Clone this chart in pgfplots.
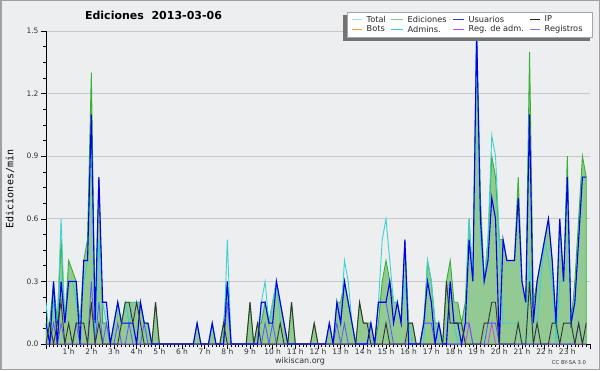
\documentclass[border=0pt]{standalone}
\usepackage{fontspec}
\setmainfont{DejaVu Sans}
\setmonofont{DejaVu Sans Mono}
\usepackage{pgfplots}
\usepackage{pgfplotstable}
\pgfplotsset{compat=1.18}

\definecolor{bg}{HTML}{EDEEF0}
\definecolor{framec}{HTML}{A0A0A0}
\definecolor{gridc}{HTML}{C8C8C8}
\definecolor{efill}{HTML}{93C993}
\definecolor{eline}{HTML}{35B035}
\definecolor{tfill}{HTML}{C4DDF0}
\definecolor{uline}{HTML}{0000EE}
\definecolor{ipline}{HTML}{333333}
\definecolor{aline}{HTML}{3CD2D0}
\definecolor{rline}{HTML}{5858F8}
\definecolor{mline}{HTML}{CC44DD}
\definecolor{lTotal}{HTML}{A8E0E0}
\definecolor{lEd}{HTML}{88CC88}
\definecolor{lUs}{HTML}{3333DD}
\definecolor{lIP}{HTML}{222222}
\definecolor{lBots}{HTML}{FF9933}
\definecolor{lAdm}{HTML}{33CCDD}
\definecolor{lReg}{HTML}{CC44DD}
\definecolor{lRegs}{HTML}{7777EE}

\pgfplotstableread{
i E U P A R M T
0 .1 .1 0 .2 0 0 .1
1 .1 0 .1 0 0 0 .1
2 .3 .3 0 .2 .1 0 .3
3 .1 0 .1 .1 0 0 .1
4 .5 .3 .2 .6 .1 0 .5
5 .1 .1 0 .1 0 0 .1
6 .4 .3 .1 .3 0 0 .4
7 .35 .3 0 .3 0 0 .35
8 .3 .3 .1 .2 .1 0 .3
9 .1 0 .1 .1 0 0 .1
10 .4 .4 .1 .3 0 0 .4
11 .5 .4 0 .4 0 0 .5
12 1.3 1.1 .2 1.0 .3 0 1.3
13 .1 .1 0 0 0 0 .1
14 .8 .8 .1 .5 .2 0 .8
15 .1 .2 0 .2 0 0 .2
16 .1 .2 0 .1 .1 0 .2
17 0 0 0 0 0 0 0
18 .1 .1 0 .1 0 0 .1
19 .2 .2 0 .2 .1 0 .2
20 .1 .1 .1 .1 0 0 .1
21 .2 .1 .2 .2 0 0 .2
22 .2 .1 .2 .1 .1 0 .2
23 .2 .1 .1 .2 0 0 .2
24 .2 0 .2 .2 0 0 .2
25 .2 .2 .1 .2 0 0 .2
26 .1 .1 0 .1 .1 0 .1
27 .1 .1 0 0 0 0 .1
28 0 0 0 0 0 0 0
29 .2 0 .2 0 0 0 .2
30 0 0 0 0 0 0 0
31 0 0 0 0 0 0 0
32 0 0 0 0 0 0 0
33 0 0 0 0 0 0 0
34 0 0 0 0 0 0 0
35 0 0 0 0 0 0 0
36 0 0 0 0 0 0 0
37 0 0 0 0 0 0 0
38 0 0 0 0 0 0 0
39 0 0 0 0 0 0 0
40 .1 .1 0 0 0 0 .1
41 0 0 0 0 0 0 0
42 0 0 0 0 0 0 0
43 0 0 0 0 0 0 0
44 .1 .1 0 0 0 0 .1
45 0 0 0 0 0 0 0
46 0 0 0 0 0 0 0
47 .1 0 .1 0 0 0 .1
48 .3 .3 0 .5 .2 0 .3
49 0 0 0 0 0 0 0
50 0 0 0 0 0 0 0
51 0 0 0 0 0 0 0
52 0 0 0 0 0 0 0
53 0 0 0 0 0 0 0
54 .2 0 .2 0 0 0 .2
55 0 0 0 0 0 0 0
56 .1 0 .1 0 0 0 .1
57 .1 .2 0 .2 0 0 .2
58 .2 .2 0 .3 .1 0 .2
59 .1 .1 0 .1 0 0 .1
60 .2 .1 0 .2 .1 0 .2
61 .3 .3 0 .3 0 0 .3
62 .2 .2 .1 .1 0 0 .2
63 .1 .1 0 0 0 0 .1
64 0 0 0 0 0 0 0
65 .2 0 .2 0 0 0 .2
66 0 0 0 0 0 0 0
67 0 0 0 0 0 0 0
68 0 0 0 0 0 0 0
69 0 0 0 0 0 0 0
70 0 0 0 0 0 0 0
71 .1 0 .1 0 0 0 .1
72 0 0 0 0 0 0 0
73 0 0 0 0 0 0 0
74 0 0 0 0 0 0 0
75 .1 .1 0 0 0 0 .1
76 0 0 0 0 0 0 0
77 .2 .2 0 .2 .1 0 .2
78 .2 .1 0 .1 0 0 .2
79 .3 .3 0 .4 .1 0 .3
80 .2 .2 0 .3 0 0 .2
81 .1 .1 0 .1 0 0 .1
82 0 0 0 0 0 0 0
83 .2 0 .2 0 0 0 .2
84 .1 0 .1 0 0 0 .1
85 .1 0 .1 0 0 0 .1
86 .1 .1 0 0 0 0 .1
87 0 0 0 0 0 0 0
88 .1 .2 0 .2 .2 0 .2
89 .3 .2 0 .5 .2 0 .3
90 .4 .2 .1 .6 .2 0 .4
91 .3 .3 0 .4 .1 0 .3
92 .2 .1 0 .2 0 0 .2
93 .2 .2 0 .2 0 0 .2
94 .1 .1 0 .1 0 0 .1
95 .5 .5 0 .3 0 0 .5
96 .1 0 .1 .1 0 0 .1
97 .1 0 .1 0 0 0 .1
98 0 0 0 0 0 0 0
99 0 0 0 0 0 0 0
100 .1 .1 0 0 .1 0 .1
101 .4 .3 0 .4 .1 0 .4
102 .3 .2 0 .3 .1 0 .3
103 .1 0 0 .1 0 0 .1
104 .1 .1 0 0 0 0 .1
105 0 0 0 0 0 0 0
106 .3 0 .3 0 0 0 .3
107 .4 .3 .1 .3 0 0 .4
108 .2 .1 .1 .1 0 0 .2
109 .2 .1 .1 0 0 0 .2
110 .1 0 .1 0 0 0 .1
111 .2 .1 0 .1 .1 0 .2
112 .6 .5 0 .6 .1 .1 .6
113 .3 .3 0 .3 0 0 .3
114 1.5 1.5 0 1.5 0 0 1.5
115 .7 .6 0 .5 0 0 .7
116 .3 .3 .1 .3 0 0 .3
117 .5 .4 .1 .5 .1 0 .5
118 .9 .7 .2 1.0 .1 .1 .9
119 .8 .6 .2 .9 .1 0 .8
120 .5 0 0 .5 0 0 .5
121 .5 .5 0 .1 0 0 .5
122 .4 .4 0 .1 0 0 .4
123 .4 .4 0 .1 0 0 .4
124 .4 .4 0 .1 0 0 .4
125 .8 .7 .1 .1 0 0 .8
126 .3 .3 0 0 0 0 .3
127 .2 .2 0 0 0 0 .2
128 1.4 1.1 .3 .4 0 0 1.4
129 .2 .1 0 0 0 0 .2
130 .3 .3 .1 .1 0 0 .3
131 .4 .4 0 .3 0 0 .4
132 .5 .5 0 .5 0 0 .5
133 .6 .6 0 .4 0 0 .6
134 .4 .4 .1 .3 0 0 .4
135 .1 .1 .1 0 0 0 .1
136 .6 .6 0 .3 0 0 .6
137 .3 .3 .1 .3 0 0 .3
138 .9 .8 .1 .8 0 0 .9
139 .1 .1 .1 .1 0 0 .1
140 .3 .2 0 .2 0 0 .3
141 .6 .5 .1 .5 .1 0 .6
142 .9 .8 0 .8 0 0 .9
143 .8 .8 .1 .8 0 0 .8
}\datatable

\begin{document}
\begin{tikzpicture}
\path[use as bounding box] (0pt,0pt) rectangle (600pt,370pt);
\fill[bg] (0pt,0pt) rectangle (600pt,370pt);
\draw[framec, line width=1.5pt] (0.75pt,0.75pt) rectangle (599.25pt,369.25pt);
\begin{axis}[
  at={(46pt,26pt)}, anchor=south west,
  scale only axis, width=544pt, height=313pt,
  xmin=0, xmax=24, ymin=0, ymax=1.5,
  axis x line*=bottom, axis y line*=left,
  axis line style={black, line width=0.9pt},
  xtick={0,...,24},
  xticklabels={,1 h,2 h,3 h,4 h,5 h,6 h,7 h,8 h,9 h,10 h,11 h,12 h,13 h,14 h,15 h,16 h,17 h,18 h,19 h,20 h,21 h,22 h,23 h,},
  minor x tick num=5,
  ytick={0,0.3,0.6,0.9,1.2,1.5},
  minor y tick num=3,
  tick align=outside,
  major tick length=5pt, minor tick length=3pt,
  tick style={black, line width=0.6pt},
  ymajorgrids, grid style={gridc, line width=0.8pt},
  /pgf/number format/assume math mode=true,
  /pgf/number format/fixed, /pgf/number format/fixed zerofill, /pgf/number format/precision=1,
  ticklabel style={font=\fontsize{7.5}{9}\selectfont, text=black!80},
  xticklabel style={yshift=3.5pt},
  yticklabel style={xshift=1pt},
]
\addplot[draw=none, fill=tfill] table[x expr=\thisrow{i}/6, y=T] {\datatable} \closedcycle;
\addplot[draw=eline, line width=0.9pt, fill=efill] table[x expr=\thisrow{i}/6, y=E] {\datatable} \closedcycle;
\addplot[draw=aline, line width=0.9pt] table[x expr=\thisrow{i}/6, y=A] {\datatable};
\addplot[draw=mline, line width=0.8pt] table[x expr=\thisrow{i}/6, y=M] {\datatable};
\addplot[draw=rline, line width=0.8pt] table[x expr=\thisrow{i}/6, y=R] {\datatable};
\addplot[draw=uline, line width=1.1pt] table[x expr=\thisrow{i}/6, y=U] {\datatable};
\addplot[draw=ipline, line width=0.9pt] table[x expr=\thisrow{i}/6, y=P] {\datatable};
\end{axis}
% legend
\fill[black!55] (343pt,328.5pt) rectangle (590pt,355pt);
\draw[gray!70, fill=white, line width=0.6pt] (347pt,333pt) rectangle (592pt,358pt);
\begin{scope}[every node/.style={anchor=west, inner sep=0pt, font=\fontsize{8.2}{9}\selectfont, text=black!85}]
\draw[lTotal, line width=0.8pt] (352pt,351pt) -- (362pt,351pt); \node at (366.5pt,351pt) {Total};
\draw[lEd, line width=0.8pt] (391pt,351pt) -- (403pt,351pt); \node at (407.5pt,351pt) {Ediciones};
\draw[lUs, line width=0.8pt] (453pt,351pt) -- (464pt,351pt); \node at (468.5pt,351pt) {Usuarios};
\draw[lIP, line width=0.8pt] (530pt,351pt) -- (540pt,351pt); \node at (544.5pt,351pt) {IP};
\draw[lBots, line width=0.8pt] (352pt,341pt) -- (362pt,341pt); \node at (366.5pt,341pt) {Bots};
\draw[lAdm, line width=0.8pt] (391pt,341pt) -- (403pt,341pt); \node at (407.5pt,341pt) {Admins.};
\draw[lReg, line width=0.8pt] (453pt,341pt) -- (464pt,341pt); \node at (468.5pt,341pt) {Reg. de adm.};
\draw[lRegs, line width=0.8pt] (530pt,341pt) -- (540pt,341pt); \node at (544.5pt,341pt) {Registros};
\end{scope}
\node[font=\bfseries\fontsize{11}{13}\selectfont] at (153.5pt,354.5pt) {Ediciones\ \ 2013-03-06};
\node[rotate=90, font=\ttfamily\fontsize{10}{12}\selectfont] at (10pt,181pt) {Ediciones/min};
\node[font=\fontsize{8}{9}\selectfont, text=black!80] at (300pt,8.5pt) {wikiscan.org};
\node[font=\fontsize{5.3}{6}\selectfont, text=black!80] at (569pt,7.5pt) {CC BY-SA 3.0};
\end{tikzpicture}
\end{document}
